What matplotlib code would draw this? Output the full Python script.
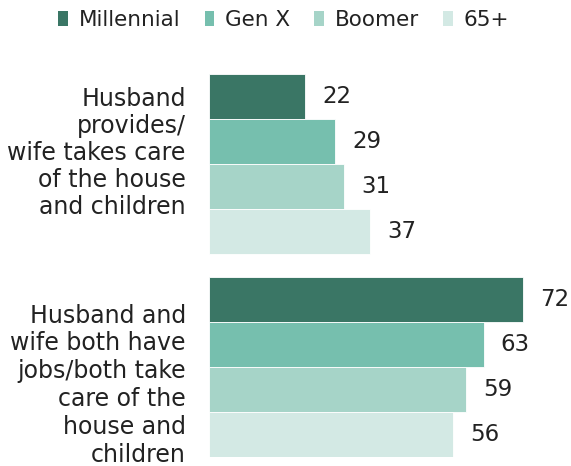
import numpy as np
import matplotlib.pyplot as plt
from matplotlib.patches import Patch

generations = ['Millennial', 'Gen X', 'Boomer', '65+']
colors = ['#3a7665', '#76bfae', '#a6d4c8', '#d3e9e4']
arrangements = ['Husband\nprovides/\nwife takes care\nof the house\nand children',
                'Husband and\nwife both have\njobs/both take\ncare of the\nhouse and\nchildren']
values = {
    'Millennial': [22, 72],
    'Gen X': [29, 63],
    'Boomer': [31, 59],
    '65+': [37, 56],
}


def main():
    plt.rcParams['font.family'] = 'DejaVu Sans'
    fig = plt.figure(figsize=(5.71, 4.66), dpi=100)
    ax = fig.add_axes([0.366, 0.019, 0.634, 0.822])

    group_gap = 0.5
    for g in range(len(arrangements)):
        base = g * (len(generations) + group_gap)
        for i, gen in enumerate(generations):
            y = base + i + 0.5
            v = values[gen][g]
            ax.barh(y, v, height=1.0, color=colors[i], edgecolor='white', linewidth=0.6)
            ax.text(v + 3.9, y, str(v), va='center', ha='left', fontsize=16.5, color='#222222')

    # group labels sit a bit off-centre, as laid out
    ax.text(-5.3, 1.76, arrangements[0], ha='right', va='center', fontsize=17,
            linespacing=1.16, color='#222222')
    ax.text(-5.3, 6.9, arrangements[1], ha='right', va='center', fontsize=17,
            linespacing=1.2, color='#222222')

    ax.set_xlim(0, 83)
    ax.set_ylim(8.5, 0)
    ax.axis('off')

    handles = [Patch(facecolor=c, edgecolor='none') for c in colors]
    fig.legend(handles, generations, loc='center', bbox_to_anchor=(0.497, 0.957), ncol=4,
               frameon=False, fontsize=15.5, handlelength=0.45, handleheight=0.7,
               handletextpad=0.5, columnspacing=1.13, labelcolor='#222222',
               borderpad=0, borderaxespad=0)

    fig.savefig('out.png', dpi=100)


if __name__ == "__main__":
    main()
